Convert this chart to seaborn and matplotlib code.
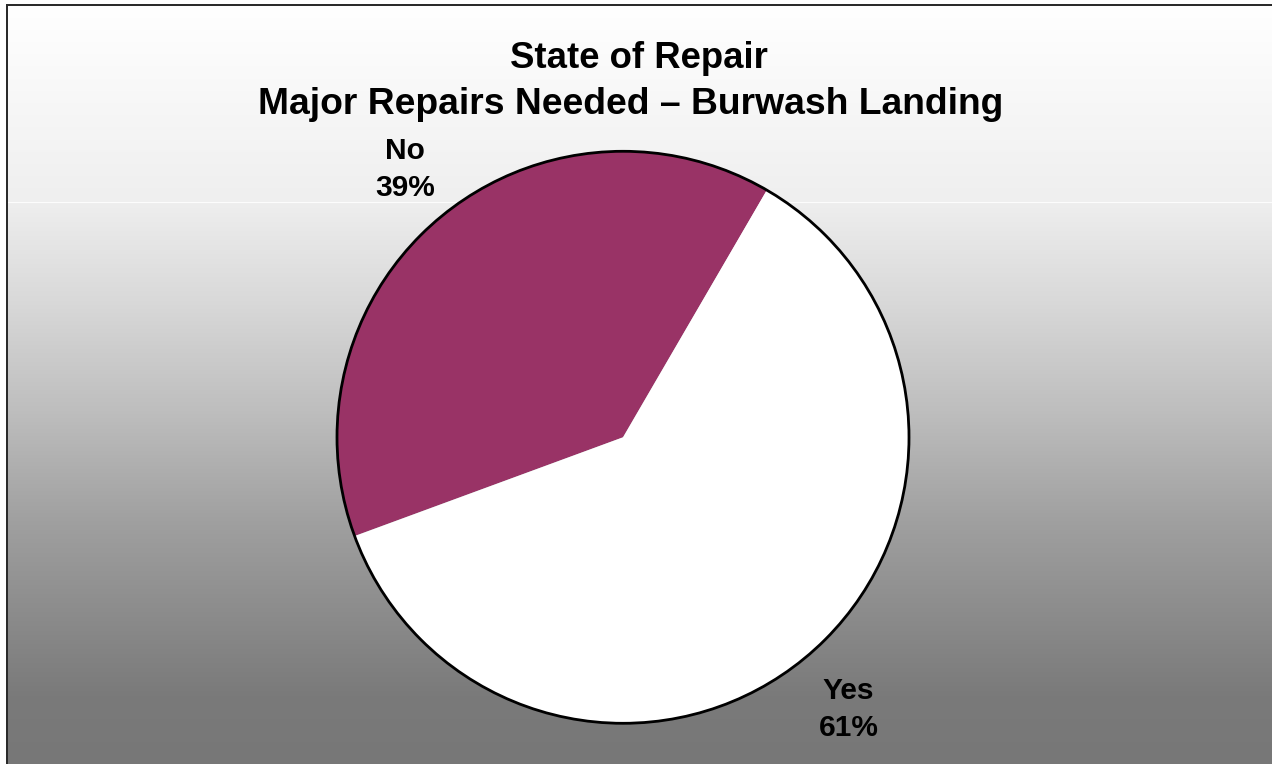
import numpy as np
import matplotlib
matplotlib.use("Agg")
import matplotlib.pyplot as plt
from matplotlib.patches import Circle
import seaborn as sns

# Survey result
categories = ["No", "Yes"]
shares = [39, 61]
slice_colors = ["#993366", "#FFFFFF"]
title_lines = ["State of Repair", "Major Repairs Needed \u2013 Burwash Landing"]

sns.set_theme(style="white")
plt.rcParams["font.family"] = ["Liberation Sans", "DejaVu Sans"]

W, H, DPI = 1272, 764, 100
fig = plt.figure(figsize=(W / DPI, H / DPI), dpi=DPI)
fig.patch.set_facecolor("white")

# Chart-area backdrop: vertical white-to-grey gradient with a thin frame
rows = np.arange(H)
stop_y = [0, 5, 200, 201, 202, 203, 300, 410, 520, 630, 695, 764]
stop_v = [255, 255, 239, 239, 252, 238, 217, 190, 160, 136, 122, 119]
shade = np.interp(rows, stop_y, stop_v) / 255.0
bg = np.repeat(shade[:, None], W, axis=1)
bg[:4, :] = 1.0
bg[:, :6] = 1.0
bg[4:6, 6:] = 0.17
bg[4:, 6:8] = 0.17
img = np.dstack([bg, bg, bg])
fig.figimage(img, 0, 0, origin="upper", zorder=0)

# Pie placed by pixel geometry
cx, cy, R = 623.0, 437.3, 286.0
ax = fig.add_axes([(cx - R) / W, (H - cy - R) / H, 2 * R / W, 2 * R / H])
ax.set_zorder(2)
ax.patch.set_visible(False)

wedges, _ = ax.pie(shares, colors=slice_colors, startangle=59.8,
                   counterclock=True, radius=1.0,
                   wedgeprops=dict(linewidth=0, edgecolor="none"))
for w in wedges:
    w.set_clip_on(False)
ax.add_patch(Circle((0, 0), 1.0, fill=False, edgecolor="black", linewidth=2.0,
                    zorder=5, clip_on=False))
ax.set_xlim(-1, 1)
ax.set_ylim(-1, 1)
ax.set_aspect("equal")
ax.axis("off")

# Labels sit just outside each wedge, along its middle angle
label_dist = [1.19, 1.26]
label_shift = [(1, -1), (-6, -4)]
for w, cat, val, d, (sx, sy) in zip(wedges, categories, shares, label_dist,
                                    label_shift):
    mid = np.deg2rad((w.theta1 + w.theta2) / 2)
    anchor = (d * np.cos(mid), d * np.sin(mid))
    ax.annotate(cat, xy=anchor, xytext=(sx, 18.5 + sy),
                textcoords="offset pixels", ha="center", va="baseline",
                fontsize=21.5, fontweight="bold", color="black",
                annotation_clip=False)
    ax.annotate(f"{val}%", xy=anchor, xytext=(sx, -18.5 + sy),
                textcoords="offset pixels", ha="center", va="baseline",
                fontsize=21.5, fontweight="bold", color="black",
                annotation_clip=False)

# Two-line title
fig.text(639 / W, 1 - 68 / H, title_lines[0], ha="center", va="baseline",
         fontsize=26.3, fontweight="bold", color="black", zorder=3)
fig.text(630.5 / W, 1 - 114.5 / H, title_lines[1], ha="center", va="baseline",
         fontsize=26.8, fontweight="bold", color="black", zorder=3)

fig.savefig("out.png", dpi=DPI)
